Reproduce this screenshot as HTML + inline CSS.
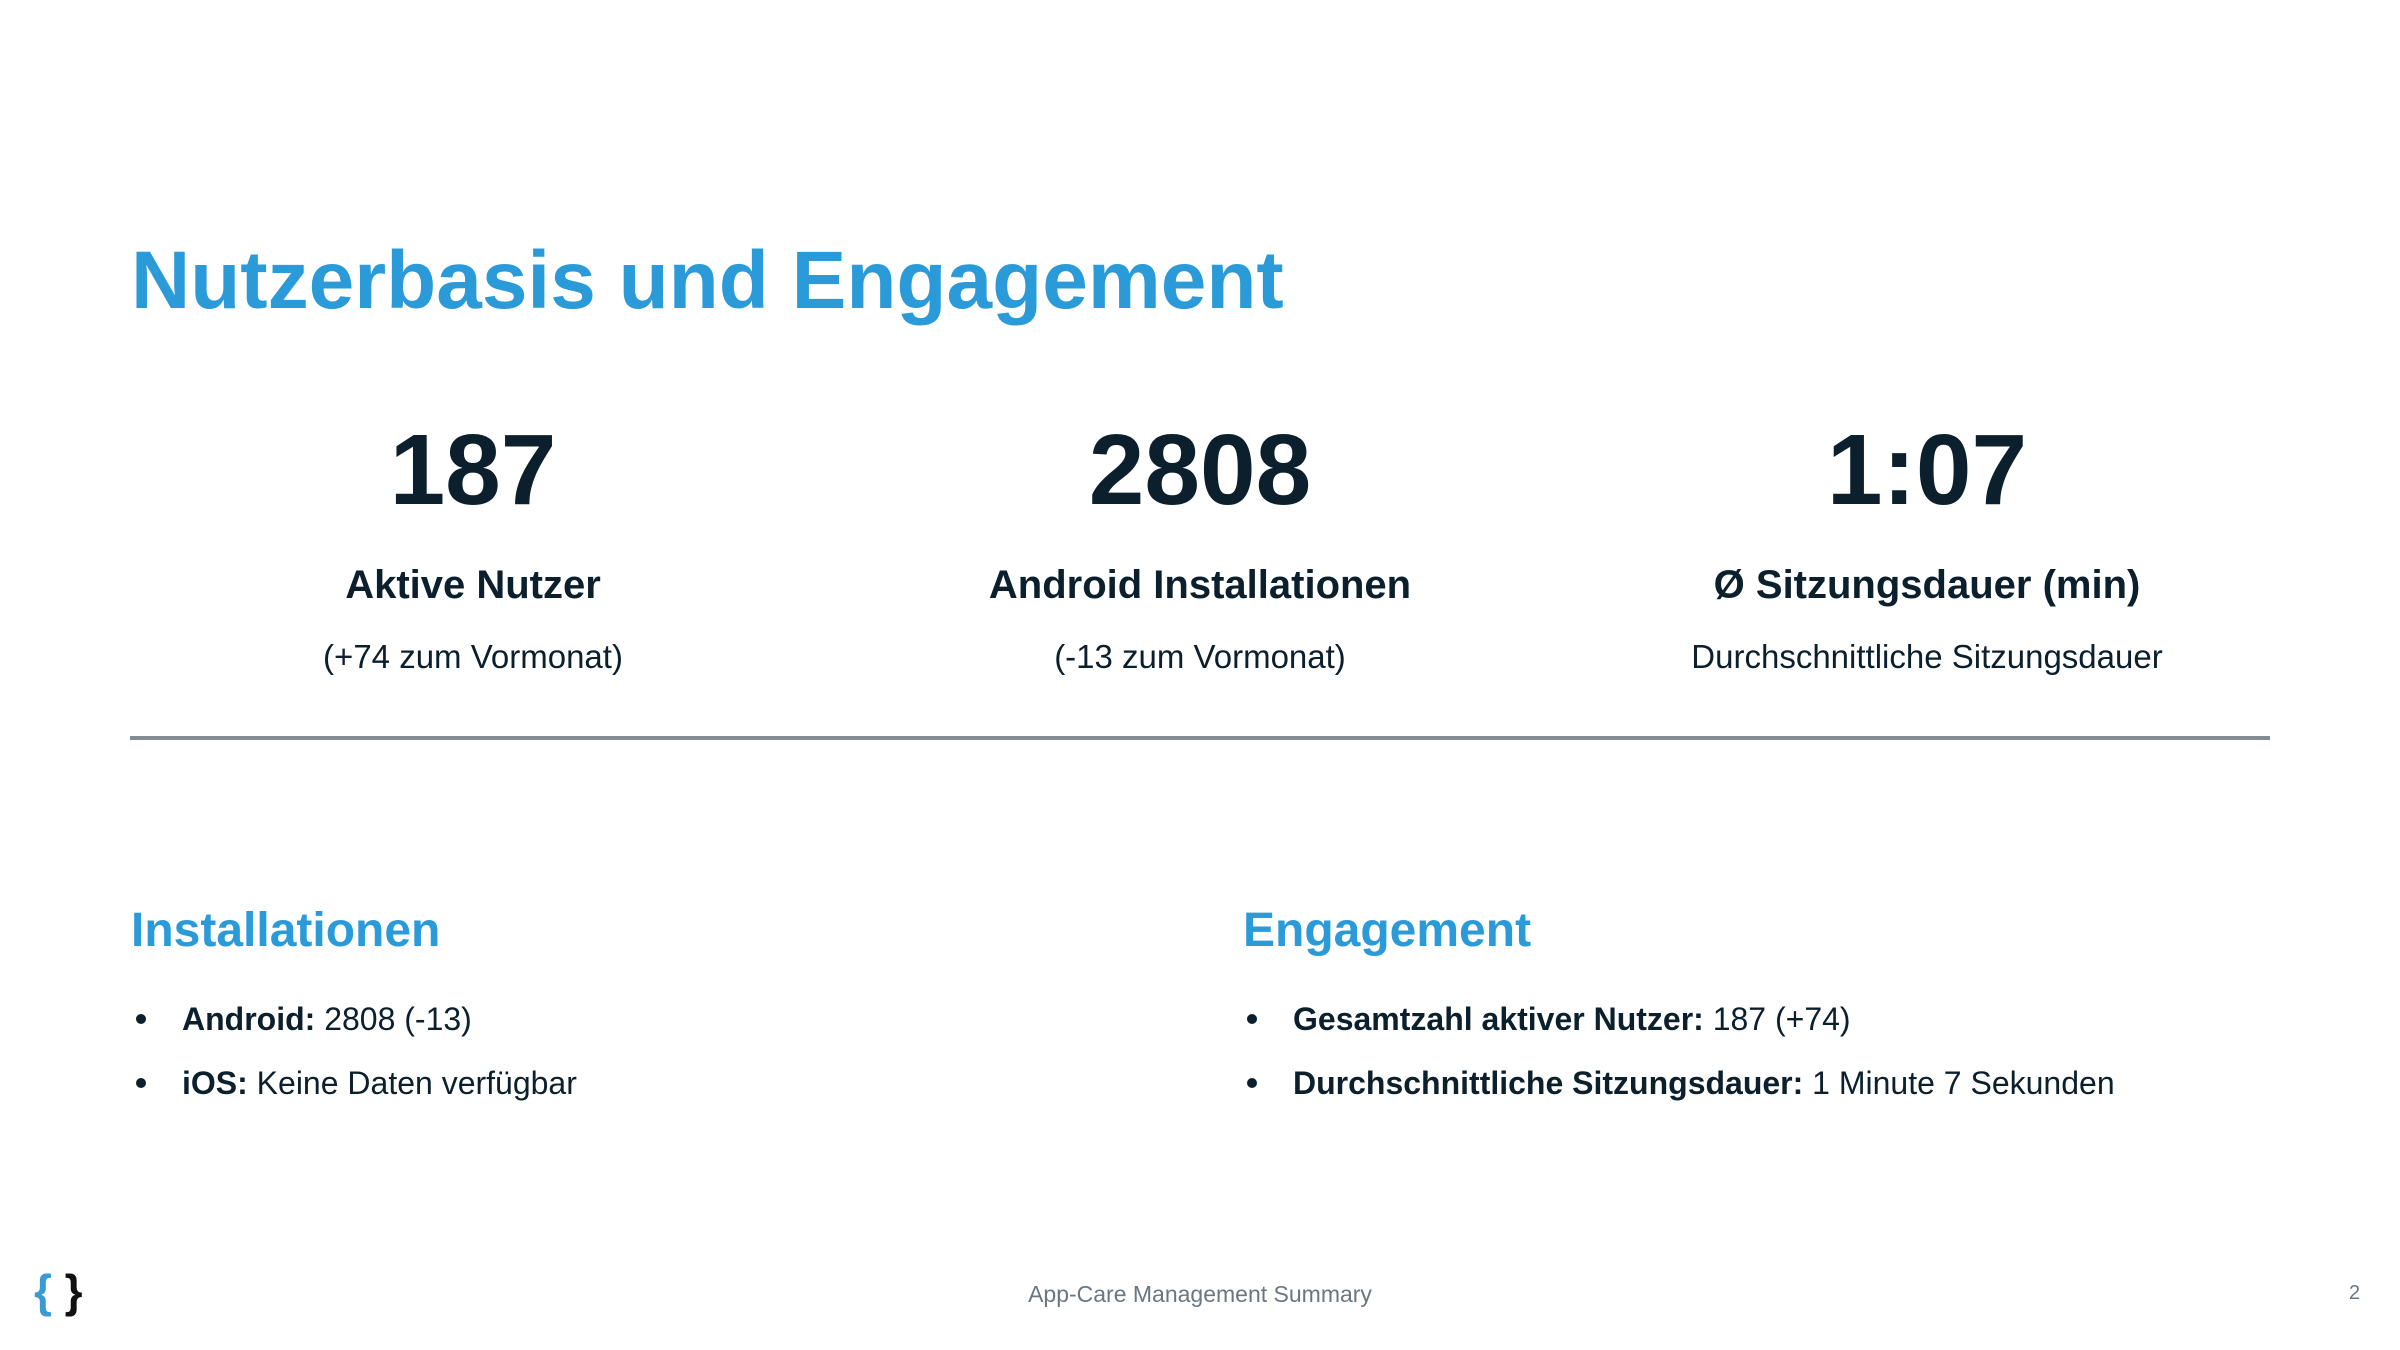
<!DOCTYPE html>
<html><head><meta charset="utf-8"><style>
body{margin:0;width:2400px;height:1350px;background:#fff;position:relative;overflow:hidden;font-family:"Liberation Sans",sans-serif;color:#0b1f2c}
.a{position:absolute;white-space:nowrap}
.c{transform:translateX(-50%);text-align:center}
h1{position:absolute;left:131px;top:240px;margin:0;font-size:82px;font-weight:bold;color:#2a9bd8;line-height:1}
.num{font-size:100px;font-weight:bold;top:420px;line-height:1}
.lab{font-size:40px;font-weight:bold;top:565px;line-height:1}
.sub{font-size:33px;top:640px;line-height:1}
.hr{position:absolute;left:130px;top:736px;width:2140px;height:4px;background:#838c95}
.h2{font-size:48px;font-weight:bold;color:#2a9bd8;top:907px;line-height:1}
.li{font-size:32px;line-height:1}
.dot{position:absolute;width:10px;height:10px;border-radius:50%;background:#0b1f2c}
</style></head><body>
<h1>Nutzerbasis und Engagement</h1>
<div class="a c num" style="left:473px">187</div>
<div class="a c num" style="left:1200px">2808</div>
<div class="a c num" style="left:1927px">1:07</div>
<div class="a c lab" style="left:473px">Aktive Nutzer</div>
<div class="a c lab" style="left:1200px">Android Installationen</div>
<div class="a c lab" style="left:1927px">Ø Sitzungsdauer (min)</div>
<div class="a c sub" style="left:473px">(+74 zum Vormonat)</div>
<div class="a c sub" style="left:1200px">(-13 zum Vormonat)</div>
<div class="a c sub" style="left:1927px">Durchschnittliche Sitzungsdauer</div>
<div class="hr"></div>
<div class="a h2" style="left:131px">Installationen</div>
<div class="a h2" style="left:1243px">Engagement</div>
<div class="dot" style="left:136px;top:1014px"></div>
<div class="dot" style="left:136px;top:1078px"></div>
<div class="dot" style="left:1247px;top:1014px"></div>
<div class="dot" style="left:1247px;top:1078px"></div>
<div class="a li" style="left:182px;top:1003px"><b>Android:</b> 2808 (-13)</div>
<div class="a li" style="left:182px;top:1067px"><b>iOS:</b> Keine Daten verfügbar</div>
<div class="a li" style="left:1293px;top:1003px"><b>Gesamtzahl aktiver Nutzer:</b> 187 (+74)</div>
<div class="a li" style="left:1293px;top:1067px"><b>Durchschnittliche Sitzungsdauer:</b> 1 Minute 7 Sekunden</div>
<div class="a" style="left:34px;top:1268px;font-size:46px;font-weight:bold;line-height:1"><span style="color:#3a9ad6">{</span><span style="color:#111"> }</span></div>
<div class="a c" style="left:1200px;top:1281px;font-size:23px;color:#6b7680">App-Care Management Summary</div>
<div class="a" style="left:2349px;top:1282px;font-size:20px;color:#6b7680">2</div>
</body></html>
